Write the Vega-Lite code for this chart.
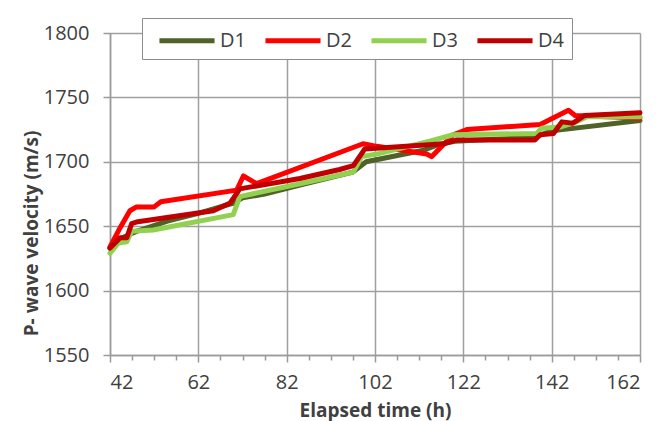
{
  "$schema": "https://vega.github.io/schema/vega-lite/v6.json",
  "width": 530,
  "height": 322,
  "autosize": "none",
  "padding": {"left": 110, "top": 33, "right": 30, "bottom": 66},
  "background": "white",
  "config": {
    "view": {"stroke": null},
    "font": "Open Sans",
    "axis": {
      "labelFont": "Open Sans",
      "titleFont": "Open Sans",
      "labelColor": "#404040",
      "titleColor": "#404040",
      "domainColor": "#9a9a9a",
      "tickColor": "#9a9a9a",
      "gridColor": "#a0a0a0",
      "gridWidth": 1.5,
      "domainWidth": 1.5,
      "tickWidth": 1.5
    }
  },
  "data": {
    "values": [
      {"t": 42, "v": 1633, "s": "D1"}, {"t": 43, "v": 1638, "s": "D1"}, {"t": 46, "v": 1643, "s": "D1"},
      {"t": 48, "v": 1646, "s": "D1"}, {"t": 55, "v": 1654, "s": "D1"}, {"t": 62, "v": 1660, "s": "D1"},
      {"t": 70, "v": 1668, "s": "D1"}, {"t": 72, "v": 1672, "s": "D1"}, {"t": 77, "v": 1675, "s": "D1"},
      {"t": 85, "v": 1682, "s": "D1"}, {"t": 97, "v": 1692, "s": "D1"}, {"t": 100, "v": 1700, "s": "D1"},
      {"t": 113, "v": 1709, "s": "D1"}, {"t": 116, "v": 1713, "s": "D1"}, {"t": 120, "v": 1716, "s": "D1"},
      {"t": 138, "v": 1719, "s": "D1"}, {"t": 142, "v": 1724, "s": "D1"}, {"t": 162, "v": 1732, "s": "D1"},

      {"t": 42, "v": 1634, "s": "D2"}, {"t": 44, "v": 1647, "s": "D2"}, {"t": 46.5, "v": 1662, "s": "D2"},
      {"t": 48, "v": 1665, "s": "D2"}, {"t": 52, "v": 1665, "s": "D2"}, {"t": 53.5, "v": 1669, "s": "D2"},
      {"t": 70.7, "v": 1678, "s": "D2"}, {"t": 72.2, "v": 1689, "s": "D2"}, {"t": 75.2, "v": 1683, "s": "D2"},
      {"t": 99.3, "v": 1714, "s": "D2"}, {"t": 102.4, "v": 1712, "s": "D2"}, {"t": 113.7, "v": 1706, "s": "D2"},
      {"t": 114.8, "v": 1704, "s": "D2"}, {"t": 119.7, "v": 1721, "s": "D2"}, {"t": 122.8, "v": 1725, "s": "D2"},
      {"t": 139.4, "v": 1729, "s": "D2"}, {"t": 145.8, "v": 1740, "s": "D2"}, {"t": 147.3, "v": 1736, "s": "D2"},
      {"t": 162, "v": 1734, "s": "D2"},

      {"t": 42, "v": 1629, "s": "D3"}, {"t": 43.9, "v": 1637, "s": "D3"}, {"t": 45.8, "v": 1638, "s": "D3"},
      {"t": 46.9, "v": 1646, "s": "D3"}, {"t": 51.8, "v": 1647, "s": "D3"}, {"t": 69.9, "v": 1659, "s": "D3"},
      {"t": 71.4, "v": 1673, "s": "D3"}, {"t": 85, "v": 1683, "s": "D3"}, {"t": 97.1, "v": 1692, "s": "D3"},
      {"t": 99, "v": 1704, "s": "D3"}, {"t": 102.4, "v": 1706, "s": "D3"}, {"t": 114.4, "v": 1716, "s": "D3"},
      {"t": 119.7, "v": 1721, "s": "D3"}, {"t": 138.6, "v": 1722, "s": "D3"}, {"t": 139.7, "v": 1726, "s": "D3"},
      {"t": 143.9, "v": 1727, "s": "D3"}, {"t": 147.6, "v": 1731, "s": "D3"}, {"t": 150, "v": 1735, "s": "D3"},
      {"t": 162, "v": 1735, "s": "D3"},

      {"t": 42, "v": 1633, "s": "D4"}, {"t": 44.3, "v": 1641, "s": "D4"}, {"t": 45.8, "v": 1641, "s": "D4"},
      {"t": 46.9, "v": 1652, "s": "D4"}, {"t": 48.3, "v": 1653.5, "s": "D4"}, {"t": 65.4, "v": 1662, "s": "D4"},
      {"t": 69.2, "v": 1668, "s": "D4"}, {"t": 71.4, "v": 1679, "s": "D4"}, {"t": 85, "v": 1687, "s": "D4"},
      {"t": 94, "v": 1694, "s": "D4"}, {"t": 97.1, "v": 1697, "s": "D4"}, {"t": 99.7, "v": 1710, "s": "D4"},
      {"t": 117.5, "v": 1714, "s": "D4"}, {"t": 120.5, "v": 1717, "s": "D4"}, {"t": 138.2, "v": 1717, "s": "D4"},
      {"t": 139.4, "v": 1721, "s": "D4"}, {"t": 142.4, "v": 1722, "s": "D4"}, {"t": 144.3, "v": 1731, "s": "D4"},
      {"t": 146.8, "v": 1730, "s": "D4"}, {"t": 149.5, "v": 1736, "s": "D4"}, {"t": 162, "v": 1738, "s": "D4"}
    ]
  },
  "layer": [
    {
      "mark": {"type": "point", "opacity": 0},
      "encoding": {
        "x": {
          "field": "t", "type": "quantitative",
          "scale": {"domain": [42, 162], "nice": false, "zero": false},
          "axis": {
            "orient": "bottom",
            "values": [47, 52, 57, 67, 72, 77, 87, 92, 97, 107, 112, 117, 127, 132, 137, 147, 152, 157],
            "labels": false, "grid": false, "domain": false, "title": null,
            "tickSize": 5
          }
        },
        "y": {
          "field": "v", "type": "quantitative",
          "scale": {"domain": [1550, 1800], "nice": false, "zero": false},
          "axis": {
            "values": [1550, 1600, 1650, 1700, 1750, 1800],
            "format": "d",
            "title": "P- wave velocity (m/s)",
            "titleFontSize": 19, "titleFontWeight": "bold",
            "titleX": -79, "titleY": 200, "titleBaseline": "middle", "titleAngle": -90,
            "labelFontSize": 20, "labelPadding": 14, "tickSize": 7,
            "grid": true
          }
        }
      }
    },
    {
      "mark": {"type": "line", "strokeWidth": 5, "strokeJoin": "round", "strokeCap": "round"},
      "encoding": {
        "x": {
          "field": "t", "type": "quantitative",
          "scale": {"domain": [42, 162], "nice": false, "zero": false},
          "axis": {
            "orient": "bottom",
            "values": [42, 62, 82, 102, 122, 142, 162],
            "title": "Elapsed time (h)",
            "titleFontSize": 19, "titleFontWeight": "bold",
            "titleY": 55, "titleBaseline": "middle",
            "labelFontSize": 20, "labelPadding": 10, "tickSize": 7,
            "grid": true
          }
        },
        "y": {
          "field": "v", "type": "quantitative",
          "scale": {"domain": [1550, 1800], "nice": false, "zero": false},
          "axis": {
            "values": [1550, 1600, 1650, 1700, 1750, 1800],
            "format": "d",
            "title": "P- wave velocity (m/s)",
            "titleFontSize": 19, "titleFontWeight": "bold",
            "titleX": -79, "titleY": 200, "titleBaseline": "middle", "titleAngle": -90,
            "labelFontSize": 20, "labelPadding": 14, "tickSize": 7,
            "grid": true
          }
        },
        "color": {
          "field": "s", "type": "nominal",
          "scale": {"domain": ["D1", "D2", "D3", "D4"], "range": ["#4F6228", "#FF0000", "#92D050", "#C00000"]},
          "legend": {
            "title": null,
            "orient": "none",
            "direction": "horizontal",
            "legendX": 32,
            "legendY": -15,
            "symbolType": "M-0.42,0H4.17",
            "symbolSize": 576,
            "symbolStrokeWidth": 5,
            "labelFontSize": 20,
            "labelFont": "Open Sans",
            "labelColor": "#404040",
            "labelOffset": 41,
            "columnPadding": 9,
            "padding": 8,
            "fillColor": "white",
            "strokeColor": "#8c8c8c"
          }
        },
        "order": {"field": "t", "type": "quantitative"}
      }
    }
  ],
  "resolve": {"axis": {"x": "independent"}}
}
